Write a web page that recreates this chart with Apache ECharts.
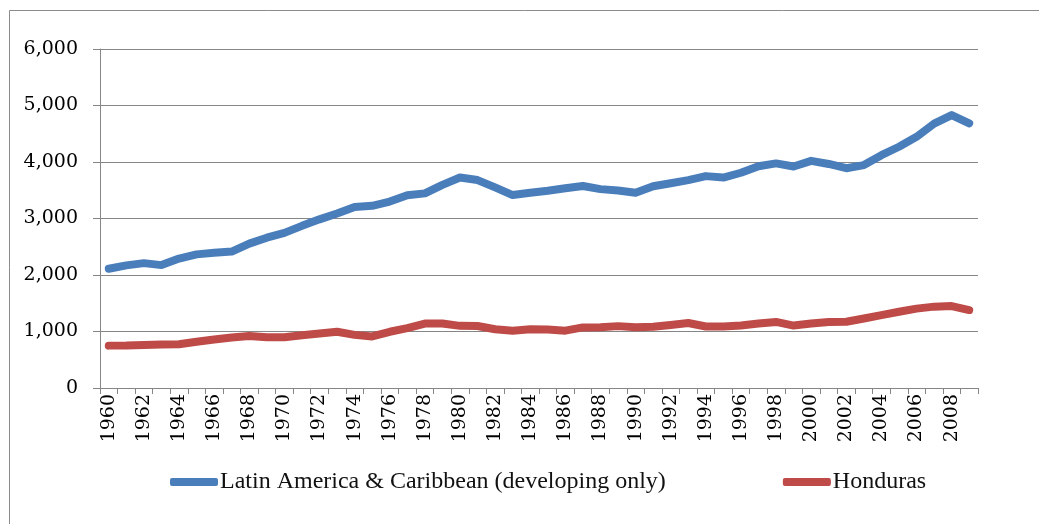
<!DOCTYPE html>
<html>
<head>
    <meta charset="utf-8"/>
    <title>Latin America & Caribbean vs Honduras</title>
    <script src="https://cdn.jsdelivr.net/npm/echarts@6/dist/echarts.min.js"></script>
</head>
<body style="margin:0;background:#fff">
<div id="container" style="width:1039px;height:524px"></div>
<script type="text/javascript">
    // years 1960..2009
    var years = [];
    for (var y = 1960; y <= 2009; y++) years.push(String(y));

    // Latin America & Caribbean (developing only)
    var latam = [2110, 2170, 2210, 2175, 2290, 2365, 2395, 2415, 2555, 2660, 2745,
        2870, 2985, 3090, 3205, 3225, 3300, 3410, 3445, 3595, 3725, 3680,
        3550, 3415, 3455, 3490, 3535, 3575, 3520, 3495, 3455, 3570, 3625,
        3680, 3750, 3725, 3810, 3925, 3975, 3920, 4020, 3965, 3890, 3945,
        4120, 4270, 4445, 4680, 4830, 4685];

    // Honduras
    var honduras = [750, 752, 762, 768, 775, 820, 860, 895, 920, 898, 898,
        935, 965, 995, 940, 912, 995, 1060, 1140, 1140, 1100, 1098,
        1040, 1015, 1038, 1035, 1015, 1072, 1075, 1095, 1075, 1085, 1115,
        1150, 1088, 1088, 1105, 1140, 1170, 1105, 1140, 1170, 1172, 1230,
        1290, 1350, 1405, 1440, 1450, 1380];

    var serif = '"DejaVu Serif", "Liberation Serif", serif';

    var myChart = echarts.init(document.getElementById('container'));
    var option = {
        animation: false,
        backgroundColor: '#ffffff',
        graphic: [{
            type: 'rect',
            shape: {x: 9.5, y: 10.5, width: 1200, height: 700},
            style: {fill: 'none', stroke: '#8c8c8c', lineWidth: 1},
            silent: true
        }],
        grid: {left: 100, right: 61, top: 49, bottom: 136},
        legend: {
            bottom: 25,
            left: 165,
            itemGap: 117,
            itemWidth: 48,
            itemHeight: 8,
            icon: 'roundRect',
            textStyle: {fontFamily: '"Liberation Serif", serif', fontSize: 24, color: '#111', padding: [0, 0, 0, -3]},
            data: ['Latin America & Caribbean (developing only)', 'Honduras']
        },
        xAxis: {
            type: 'category',
            data: years,
            boundaryGap: true,
            axisLine: {lineStyle: {color: '#868686', width: 1}},
            axisTick: {show: true, interval: 0, length: 6, lineStyle: {color: '#868686'}},
            axisLabel: {
                interval: 1,
                rotate: 90,
                margin: 6,
                fontFamily: serif,
                fontSize: 19,
                color: '#000'
            },
            splitLine: {show: false}
        },
        yAxis: {
            type: 'value',
            min: 0,
            max: 6000,
            interval: 1000,
            axisLine: {show: true, lineStyle: {color: '#868686', width: 1}},
            axisTick: {show: true, length: 7, lineStyle: {color: '#868686'}},
            axisLabel: {
                margin: 22,
                fontFamily: serif,
                fontSize: 19,
                color: '#000',
                formatter: function (v) {
                    return v.toLocaleString('en-US');
                }
            },
            splitLine: {show: true, lineStyle: {color: '#868686', width: 1}}
        },
        series: [{
            name: 'Latin America & Caribbean (developing only)',
            type: 'line',
            data: latam,
            showSymbol: false,
            symbol: 'none',
            color: '#4a7ebb',
            lineStyle: {width: 8, color: '#4a7ebb', cap: 'round', join: 'round'}
        }, {
            name: 'Honduras',
            type: 'line',
            data: honduras,
            showSymbol: false,
            symbol: 'none',
            color: '#be4b48',
            lineStyle: {width: 8, color: '#be4b48', cap: 'round', join: 'round'}
        }]
    };
    myChart.setOption(option);
</script>
</body>
</html>
